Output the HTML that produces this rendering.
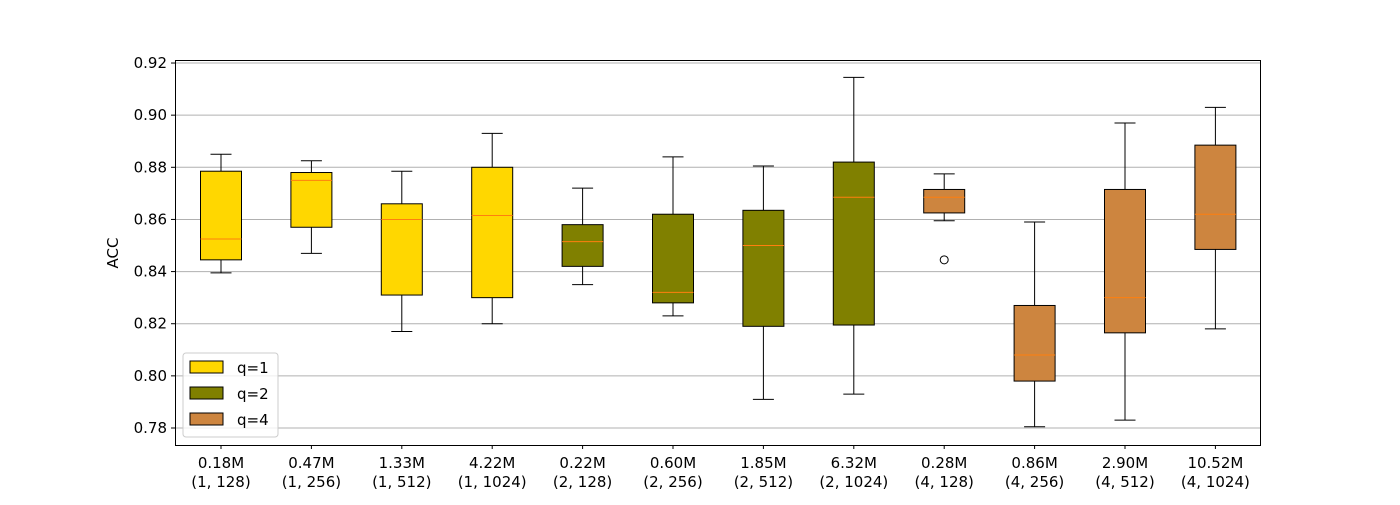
<!DOCTYPE html>
<html><head><meta charset="utf-8"><style>
body{margin:0;background:#fff;}
svg text{font-family:"DejaVu Sans","Liberation Sans",sans-serif;fill:#000;}
</style></head><body>
<svg id="chart" width="1400" height="500" xmlns="http://www.w3.org/2000/svg">
<g id="grid"></g>
<g id="boxes"></g>
<rect x="175.5" y="60.5" width="1085" height="385" fill="none" stroke="#000" stroke-width="1"/>
<g id="yaxis"></g>
<g id="xaxis"></g>
<text x="118" y="253" font-size="15" text-anchor="middle" transform="rotate(-90 118 253)">ACC</text>
<g>
<rect x="183" y="353" width="95" height="84" fill="#fff" fill-opacity="0.8" stroke="#ccc" rx="3"/>
<g><rect x="190" y="361" width="33" height="12" fill="#FFD700" stroke="#000"/><text x="237" y="373" font-size="15">q=1</text></g>
<g><rect x="190" y="387" width="33" height="12" fill="#808000" stroke="#000"/><text x="237" y="399" font-size="15">q=2</text></g>
<g><rect x="190" y="413" width="33" height="12" fill="#CD853F" stroke="#000"/><text x="237" y="425" font-size="15">q=4</text></g>
</g>
</svg>
<script>
const categories=["0.18M\n(1, 128)","0.47M\n(1, 256)","1.33M\n(1, 512)","4.22M\n(1, 1024)","0.22M\n(2, 128)","0.60M\n(2, 256)","1.85M\n(2, 512)","6.32M\n(2, 1024)","0.28M\n(4, 128)","0.86M\n(4, 256)","2.90M\n(4, 512)","10.52M\n(4, 1024)"];
const groups=[1,1,1,1,2,2,2,2,4,4,4,4];
const whiskerLow=[0.8395,0.847,0.817,0.820,0.835,0.823,0.791,0.793,0.8595,0.7805,0.783,0.818];
const q1=[0.8445,0.857,0.831,0.830,0.842,0.828,0.819,0.8195,0.8625,0.798,0.8165,0.8485];
const median=[0.8525,0.875,0.860,0.8615,0.8515,0.832,0.850,0.8685,0.8685,0.808,0.830,0.862];
const q3=[0.8785,0.878,0.866,0.880,0.858,0.862,0.8635,0.882,0.8715,0.827,0.8715,0.8885];
const whiskerHigh=[0.885,0.8825,0.8785,0.893,0.872,0.884,0.8805,0.9145,0.8775,0.859,0.897,0.903];
const outliers=[[],[],[],[],[],[],[],[],[0.8445],[],[],[]];
const yTicks=[0.78,0.80,0.82,0.84,0.86,0.88,0.90,0.92];
const colors={1:"#FFD700",2:"#808000",4:"#CD853F"};
const NS="http://www.w3.org/2000/svg";
const y=v=>428-(v-0.78)/0.02*52.14;
const x=i=>221+i*90.4;
function mk(tag,attrs,parent){const e=document.createElementNS(NS,tag);for(const k in attrs)e.setAttribute(k,attrs[k]);parent.appendChild(e);return e;}
const grid=document.getElementById('grid'),ya=document.getElementById('yaxis'),xa=document.getElementById('xaxis'),bx=document.getElementById('boxes');
yTicks.forEach(t=>{
  const g=mk('line',{x1:175,x2:1260,y1:y(t),y2:y(t),stroke:'#b0b0b0','stroke-width':1},grid);
  
  
  mk('line',{x1:171,x2:175,y1:y(t),y2:y(t),stroke:'#000'},ya);
  const tx=mk('text',{x:167,y:y(t)+5,'font-size':15,'text-anchor':'end'},ya);
  tx.textContent=t.toFixed(2);
  
  
});
categories.forEach((c,i)=>{
  const cx=x(i),w=41;
  mk('line',{x1:cx,x2:cx,y1:445,y2:449,stroke:'#000'},xa);
  c.split('\n').forEach((l,j)=>{
    const t=mk('text',{x:cx,y:468+j*19,'font-size':15,'text-anchor':'middle'},xa);
    t.textContent=l;
    
    
  });
  const g=mk('g',{},bx);
  
  
  mk('line',{x1:cx,x2:cx,y1:y(whiskerLow[i]),y2:y(q1[i]),stroke:'#000'},g);
  mk('line',{x1:cx,x2:cx,y1:y(q3[i]),y2:y(whiskerHigh[i]),stroke:'#000'},g);
  mk('line',{x1:cx-10.5,x2:cx+10.5,y1:y(whiskerLow[i]),y2:y(whiskerLow[i]),stroke:'#000'},g);
  mk('line',{x1:cx-10.5,x2:cx+10.5,y1:y(whiskerHigh[i]),y2:y(whiskerHigh[i]),stroke:'#000'},g);
  mk('rect',{x:cx-w/2,y:y(q3[i]),width:w,height:y(q1[i])-y(q3[i]),fill:colors[groups[i]],stroke:'#000'},g);
  mk('line',{x1:cx-w/2,x2:cx+w/2,y1:y(median[i]),y2:y(median[i]),stroke:'#ff7f0e'},g);
  outliers[i].forEach(o=>{
    const c2=mk('circle',{cx:cx,cy:y(o),r:4,fill:'none',stroke:'#000'},g);
    
    
  });
});
</script>
</body></html>
